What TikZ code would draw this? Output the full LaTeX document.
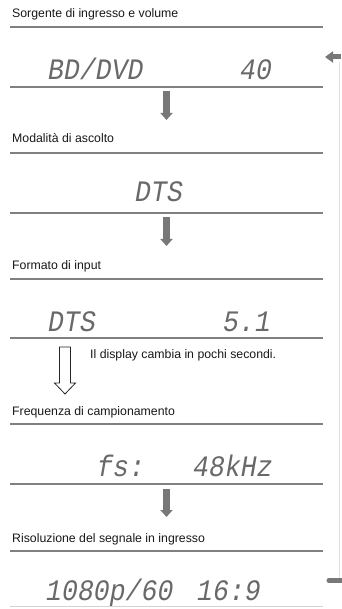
\documentclass[tikz,border=0pt]{standalone}
\usepackage{fontspec}
\setmainfont{Liberation Sans}
\newfontfamily\dispfont{Liberation Mono}
\usetikzlibrary{arrows.meta}
\definecolor{rulegray}{RGB}{128,128,128}
\definecolor{arrowgray}{RGB}{120,120,120}
\definecolor{dispgray}{RGB}{105,105,105}
\tikzset{
  title/.style={anchor=base west, inner sep=0pt, font=\fontsize{12.3}{14}\selectfont, text=black!90},
  disp/.style={anchor=base west, inner sep=0pt, text=dispgray, font=\fontsize{26.5}{28}\dispfont\itshape},
  rulel/.style={draw=rulegray, line width=1.3pt},
  flowarrow/.style={draw=arrowgray, line width=7pt, -{Triangle[width=12pt,length=7pt]}},
  hollow/.style={draw=black!85, line width=0.8pt, fill=white},
}
\newcommand{\dtxt}[1]{\scalebox{1}[1.12]{#1}}
\begin{document}
\begin{tikzpicture}[x=1pt,y=-1pt]
\useasboundingbox[fill=white] (0,0) rectangle (341,609);

% section 1
\node[title] (t1) at (12,18) {Sorgente di ingresso e volume};
\draw[rulel] (10,27) -- (323,27);
\node[disp] (d1a) at (48,79.5) {\dtxt{BD/DVD}};
\node[disp] (d1b) at (240,79.5) {\dtxt{40}};
\draw[rulel] (10,87) -- (323,87);
\coordinate (a1s) at (166.5,91);
\coordinate (a1e) at (166.5,120);
\draw[flowarrow] (a1s) -- (a1e);

% section 2
\node[title] (t2) at (12,142.5) {Modalità di ascolto};
\draw[rulel] (10,153) -- (323,153);
\node[disp] (d2) at (135,202) {\dtxt{DTS}};
\draw[rulel] (10,213) -- (323,213);
\coordinate (a2s) at (166.5,217);
\coordinate (a2e) at (166.5,246);
\draw[flowarrow] (a2s) -- (a2e);

% section 3
\node[title] (t3) at (12,269) {Formato di input};
\draw[rulel] (10,279) -- (323,279);
\node[disp] (d3a) at (48,331) {\dtxt{DTS}};
\node[disp] (d3b) at (223,331) {\dtxt{5.1}};
\draw[rulel] (10,338) -- (323,338);
\draw[hollow] (59.5,347) -- (70.5,347) -- (70.5,383) -- (75.5,383) -- (65,394)
  -- (54.5,383) -- (59.5,383) -- cycle;
\node[title] (note) at (90,358) {Il display cambia in pochi secondi.};

% section 4
\node[title] (t4) at (12,415) {Frequenza di campionamento};
\draw[rulel] (10,424) -- (323,424);
\node[disp] (d4a) at (97,476) {\dtxt{fs:}};
\node[disp] (d4b) at (193,476) {\dtxt{48kHz}};
\draw[rulel] (10,484) -- (323,484);
\coordinate (a3s) at (166.5,489);
\coordinate (a3e) at (166.5,517);
\draw[flowarrow] (a3s) -- (a3e);

% section 5
\node[title] (t5) at (12,542) {Risoluzione del segnale in ingresso};
\draw[rulel] (10,551) -- (323,551);
\node[disp] (d5a) at (46,600) {\dtxt{1080p/60}};
\node[disp] (d5b) at (197,600) {\dtxt{16:9}};
\draw[draw=rulegray!35, line width=1pt] (10,606) -- (323,606);

% right side return loop (cut off)
\coordinate (rtop) at (341,57);
\coordinate (rtip) at (325,57);
\draw[draw=arrowgray, line width=5pt, -{Triangle[width=11pt,length=8pt]}] (rtop) -- (rtip);
\draw[draw=black!12, line width=0.7pt] (339.5,62) -- (339.5,578);
\coordinate (rbl) at (329,580.5);
\coordinate (rbr) at (342,580.5);
\draw[draw=arrowgray, line width=5pt, line cap=round] (rbl) -- (rbr);
\end{tikzpicture}
\end{document}
